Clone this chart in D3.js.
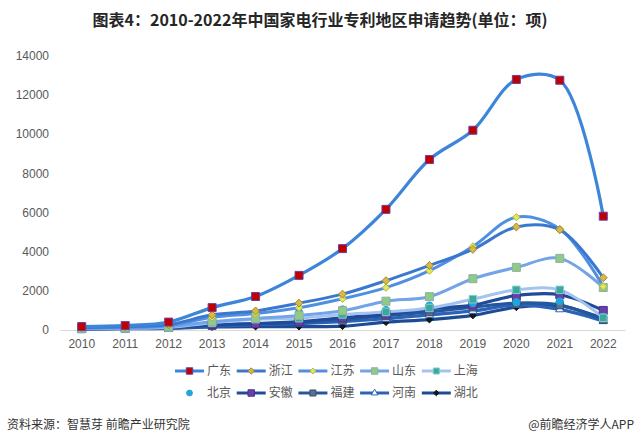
<!DOCTYPE html>
<html>
<head>
<meta charset="utf-8">
<script src="https://cdn.jsdelivr.net/npm/d3@7"></script>
<style>
  html, body { margin: 0; padding: 0; background: #fff; }
  svg { display: block; font-family: "Liberation Sans", Arial, "Noto Sans CJK SC", sans-serif; }
</style>
</head>
<body>
<svg id="chart" width="641" height="446"></svg>
<script>
// ---------- data ----------
const years = ["2010","2011","2012","2013","2014","2015","2016","2017","2018","2019","2020","2021","2022"];
const yTicks = [0, 2000, 4000, 6000, 8000, 10000, 12000, 14000];

const guangdong = [150, 200, 380, 1120, 1690, 2770, 4140, 6150, 8700, 10200, 12800, 12760, 5800];
const zhejiang  = [100, 150, 250, 750, 950, 1350, 1810, 2500, 3280, 4100, 5250, 5100, 2650];
const jiangsu   = [80, 120, 200, 620, 820, 1110, 1570, 2140, 3010, 4250, 5750, 5150, 2200];
const shandong  = [60, 80, 150, 400, 560, 720, 960, 1450, 1680, 2600, 3180, 3640, 2150];
const shanghai  = [50, 60, 100, 350, 530, 580, 770, 900, 1100, 1550, 2030, 2030, 600];
const beijing   = [60, 70, 250, 560, 840, 890, 1030, 1000, 1230, 1350, 1400, 1440, 650];
const anhui     = [40, 60, 100, 250, 300, 400, 600, 790, 1060, 1250, 1740, 1780, 975];
const fujian    = [60, 80, 100, 200, 300, 350, 510, 700, 900, 1140, 1350, 1250, 500];
const henan     = [30, 50, 80, 150, 250, 300, 400, 550, 750, 950, 1250, 1030, 425];
const hubei     = [30, 40, 60, 130, 150, 150, 170, 375, 510, 720, 1140, 1215, 560];

const seriesNames = ["广东","浙江","江苏","山东","上海","北京","安徽","福建","河南","湖北"];
const seriesValues = [guangdong, zhejiang, jiangsu, shandong, shanghai, beijing, anhui, fujian, henan, hubei];

// styles (kept separate from data)
const styles = [
  {line:"#3d85d8", w:3.2, sym:d3.symbolSquare,   size:64, fill:"#c00000", stroke:"#6a3fa0"},
  {line:"#3a78cf", w:3.0, sym:d3.symbolDiamond2, size:40, fill:"#d6b84c", stroke:"#a08a30"},
  {line:"#4f8fe2", w:3.0, sym:d3.symbolDiamond2, size:34, fill:"#dfe860", stroke:"#b0b840"},
  {line:"#73a3e8", w:3.0, sym:d3.symbolSquare,   size:64, fill:"#8fca86", stroke:"#8fb0a0"},
  {line:"#a3c4f0", w:3.0, sym:d3.symbolSquare,   size:56, fill:"#3aa8a0", stroke:"#7fd0c8"},
  {line:null,      w:0,   sym:d3.symbolCircle,   size:40, fill:"#1ea6dc", stroke:"#1ea6dc"},
  {line:"#1f4c9a", w:3.2, sym:d3.symbolSquare,   size:64, fill:"#6a40a8", stroke:"#4a3090"},
  {line:"#25579f", w:3.2, sym:d3.symbolSquare,   size:56, fill:"#5c6f8c", stroke:"#3a4f70"},
  {line:"#2b64b6", w:3.2, sym:d3.symbolTriangle, size:30, fill:"#ffffff", stroke:"#2b64b6"},
  {line:"#1d4b95", w:3.2, sym:d3.symbolDiamond2, size:30, fill:"#101820", stroke:"#101820"}
];

// ---------- layout ----------
const svg = d3.select("#chart");
const x = d3.scaleBand().domain(years).range([60, 625]);
const y = d3.scaleLinear().domain([0, 14000]).range([329.5, 56]);
const cx = d => x(d) + x.bandwidth() / 2;

// title
svg.append("text")
  .attr("x", 320).attr("y", 26)
  .attr("text-anchor", "middle")
  .attr("font-family", "'Noto Sans CJK SC', sans-serif")
  .attr("font-weight", "bold")
  .attr("font-size", 16)
  .attr("fill", "#262626")
  .text("图表4：2010-2022年中国家电行业专利地区申请趋势(单位：项)");

// y axis (labels only)
const yAxis = d3.axisLeft(y).tickValues(yTicks).tickSize(0).tickPadding(0).tickFormat(d3.format("d"));
const gy = svg.append("g").attr("transform", "translate(49,0)").call(yAxis);
gy.select(".domain").remove();
gy.selectAll("text").attr("font-size", 12).attr("fill", "#595959")
  .attr("font-family", "'Liberation Sans', Arial, sans-serif");

// x axis
const xAxis = d3.axisBottom(x).tickSize(0).tickPadding(9);
const gx = svg.append("g").attr("transform", "translate(0,330)").call(xAxis);
gx.select(".domain").attr("stroke", "#d9d9d9").attr("stroke-width", 1);
gx.selectAll("text").attr("font-size", 12).attr("fill", "#595959")
  .attr("font-family", "'Liberation Sans', Arial, sans-serif");

// lines (draw from last to first so Guangdong is on top)
const line = d3.line()
  .x((d, i) => cx(years[i]))
  .y(d => y(d))
  .curve(d3.curveCatmullRom.alpha(0.5));

const order = d3.range(seriesValues.length).reverse();
const gLines = svg.append("g");
order.forEach(k => {
  const st = styles[k];
  if (!st.line) return;
  gLines.append("path")
    .datum(seriesValues[k])
    .attr("fill", "none")
    .attr("stroke", st.line)
    .attr("stroke-width", st.w)
    .attr("stroke-linecap", "round")
    .attr("d", line);
});

// markers
const gMarks = svg.append("g");
order.forEach(k => {
  const st = styles[k];
  const sym = d3.symbol().type(st.sym).size(st.size);
  gMarks.append("g").selectAll("path")
    .data(seriesValues[k])
    .join("path")
    .attr("transform", (d, i) => `translate(${cx(years[i])},${y(d)})`)
    .attr("d", sym)
    .attr("fill", st.fill)
    .attr("stroke", st.stroke)
    .attr("stroke-width", 1);
});

// legend
const legendStartX = 175, stride = 61.7;
const rowsY = [371, 393];
seriesNames.forEach((name, k) => {
  const st = styles[k];
  const row = Math.floor(k / 5), col = k % 5;
  const lx = legendStartX + col * stride, ly = rowsY[row];
  const g = svg.append("g").attr("transform", `translate(${lx},${ly})`);
  if (st.line) {
    g.append("line").attr("x1", 0).attr("x2", 29).attr("y1", 0).attr("y2", 0)
      .attr("stroke", st.line).attr("stroke-width", 3);
  }
  g.append("path")
    .attr("transform", "translate(14.5,0)")
    .attr("d", d3.symbol().type(st.sym).size(st.size * 0.65))
    .attr("fill", st.fill).attr("stroke", st.stroke).attr("stroke-width", 1);
  g.append("text").attr("x", 32).attr("y", 0).attr("dy", "0.36em")
    .attr("font-family", "'Noto Sans CJK SC', sans-serif")
    .attr("font-size", 12).attr("fill", "#595959").text(name);
});

// footer
svg.append("text").attr("x", 7).attr("y", 429)
  .attr("font-family", "'Noto Sans CJK SC', sans-serif")
  .attr("font-size", 12).attr("fill", "#333").text("资料来源：智慧芽 前瞻产业研究院");
svg.append("text").attr("x", 634).attr("y", 429).attr("text-anchor", "end")
  .attr("font-family", "'Noto Sans CJK SC', sans-serif")
  .attr("font-size", 12).attr("fill", "#333").text("@前瞻经济学人APP");
</script>
</body>
</html>
